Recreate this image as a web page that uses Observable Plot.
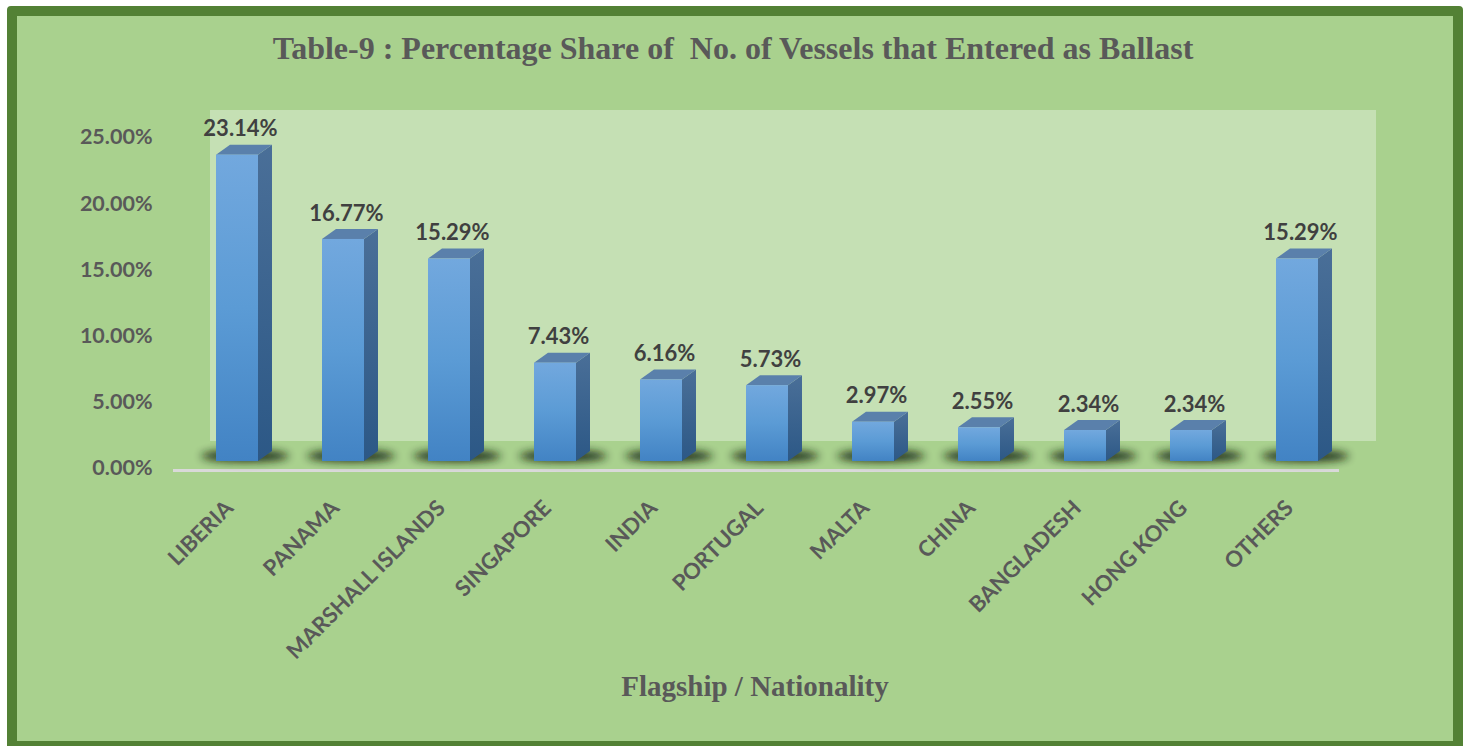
<!DOCTYPE html>
<html>
<head>
<meta charset="utf-8">
<script src="https://cdn.jsdelivr.net/npm/d3@7"></script>
<script src="https://cdn.jsdelivr.net/npm/@observablehq/plot@0.6"></script>
<style>
  html, body { margin: 0; padding: 0; background: #ffffff; }
  #page { position: relative; width: 1470px; height: 746px; overflow: hidden; }
  #frame { position: absolute; left: 7px; top: 6px; width: 1456px; height: 745px; box-sizing: border-box;
           border: 10px solid #538135; border-radius: 4px; background: #a9d18e; }
  #title { position: absolute; left: 0; top: 30px; width: 1466px; text-align: center;
           font-family: "Liberation Serif", serif; font-weight: bold; font-size: 32px; color: #595959; white-space: pre; }
  #xtitle { position: absolute; left: 0; top: 670px; width: 1510px; text-align: center;
           font-family: "Liberation Serif", serif; font-weight: bold; font-size: 29px; color: #595959; }
  #chart { position: absolute; left: 0; top: 0; }
</style>
</head>
<body>
<div id="page">
  <div id="frame"></div>
  <div id="chart"></div>
  <div id="title">Table-9 : Percentage Share of  No. of Vessels that Entered as Ballast</div>
  <div id="xtitle">Flagship / Nationality</div>
</div>
<script>
const countries = ["LIBERIA", "PANAMA", "MARSHALL ISLANDS", "SINGAPORE", "INDIA", "PORTUGAL", "MALTA", "CHINA", "BANGLADESH", "HONG KONG", "OTHERS"];
const shares = [23.14, 16.77, 15.29, 7.43, 6.16, 5.73, 2.97, 2.55, 2.34, 2.34, 15.29];
const yTicks = [0, 5, 10, 15, 20, 25];

const data = countries.map((c, i) => ({country: c, share: shares[i]}));

const DX = 14, DY = 10; // bar depth
const labelFont = "Lato, 'Open Sans', sans-serif";

function bars3d(index, scales, values, dimensions, context) {
  const bw = scales.x.bandwidth();
  const g = d3.create("svg:g");
  const defs = g.append("defs");
  const gf = defs.append("linearGradient").attr("id", "gFront").attr("x1", 0).attr("y1", 0).attr("x2", 0).attr("y2", 1);
  gf.append("stop").attr("offset", "0%").attr("stop-color", "#72a8de");
  gf.append("stop").attr("offset", "50%").attr("stop-color", "#5b9bd5");
  gf.append("stop").attr("offset", "100%").attr("stop-color", "#4283c4");
  const gs = defs.append("linearGradient").attr("id", "gSide").attr("x1", 0).attr("y1", 0).attr("x2", 0).attr("y2", 1);
  gs.append("stop").attr("offset", "0%").attr("stop-color", "#4a6f98");
  gs.append("stop").attr("offset", "100%").attr("stop-color", "#2c5886");
  const blur = defs.append("filter").attr("id", "shadowBlur").attr("x", "-50%").attr("y", "-200%").attr("width", "200%").attr("height", "500%");
  blur.append("feGaussianBlur").attr("stdDeviation", 4);

  for (const i of index) {
    const x = values.x[i];
    const yb = Math.max(values.y1[i], values.y2[i]);
    g.append("ellipse")
      .attr("cx", x + bw / 2 + 8).attr("cy", yb - 5)
      .attr("rx", bw * 1.05).attr("ry", 6)
      .attr("fill", "#18220f").attr("opacity", 0.9)
      .attr("filter", "url(#shadowBlur)");
  }
  for (const i of index) {
    const x = values.x[i];
    const yt = Math.min(values.y1[i], values.y2[i]);
    const yb = Math.max(values.y1[i], values.y2[i]);
    g.append("polygon")
      .attr("points", [[x + bw, yb], [x + bw + DX, yb - DY], [x + bw + DX, yt - DY], [x + bw, yt]].join(" "))
      .attr("fill", "url(#gSide)");
    g.append("polygon")
      .attr("points", [[x, yt], [x + DX, yt - DY], [x + bw + DX, yt - DY], [x + bw, yt]].join(" "))
      .attr("fill", "#5a80ab");
    g.append("rect")
      .attr("x", x).attr("y", yt).attr("width", bw).attr("height", yb - yt)
      .attr("fill", "url(#gFront)");
  }
  return g.node();
}

const chart = Plot.plot({
  width: 1470,
  height: 746,
  marginLeft: 184,
  marginRight: 120,
  marginTop: 130,
  marginBottom: 285,
  style: {background: "transparent", overflow: "visible"},
  x: {domain: countries, paddingInner: 0.6, paddingOuter: 0.3, axis: null},
  y: {domain: [0, d3.max(yTicks)], axis: null},
  marks: [
    Plot.rect([0], {y1: 0, y2: d3.max(yTicks), dx: 26, dy: -20, fill: "#c5e0b4"}),
    Plot.ruleY([0], {dx: -11, dy: 9, stroke: "#d9d9d9", strokeWidth: 3}),
    Plot.barY(data, {x: "country", y: "share", render: bars3d}),
    Plot.text(yTicks, {
      frameAnchor: "left", y: d => d, text: d => d.toFixed(2) + "%",
      textAnchor: "end", dx: -32, dy: 7,
      fontSize: 21.5, fontWeight: "bold", fontFamily: labelFont, fill: "#595959"
    }),
    Plot.text(data, {
      x: "country", y: "share", text: d => d.share.toFixed(2) + "%",
      dx: 3, dy: -26,
      fontSize: 22, fontWeight: "bold", fontFamily: labelFont, fill: "#404040"
    }),
    Plot.text(data, {
      x: "country", y: () => 0, text: "country",
      rotate: -45, textAnchor: "end", dx: -8, dy: 43,
      fontSize: 22, fontWeight: "bold", fontFamily: labelFont, fill: "#595959"
    })
  ]
});
document.getElementById("chart").appendChild(chart);
</script>
</body>
</html>
